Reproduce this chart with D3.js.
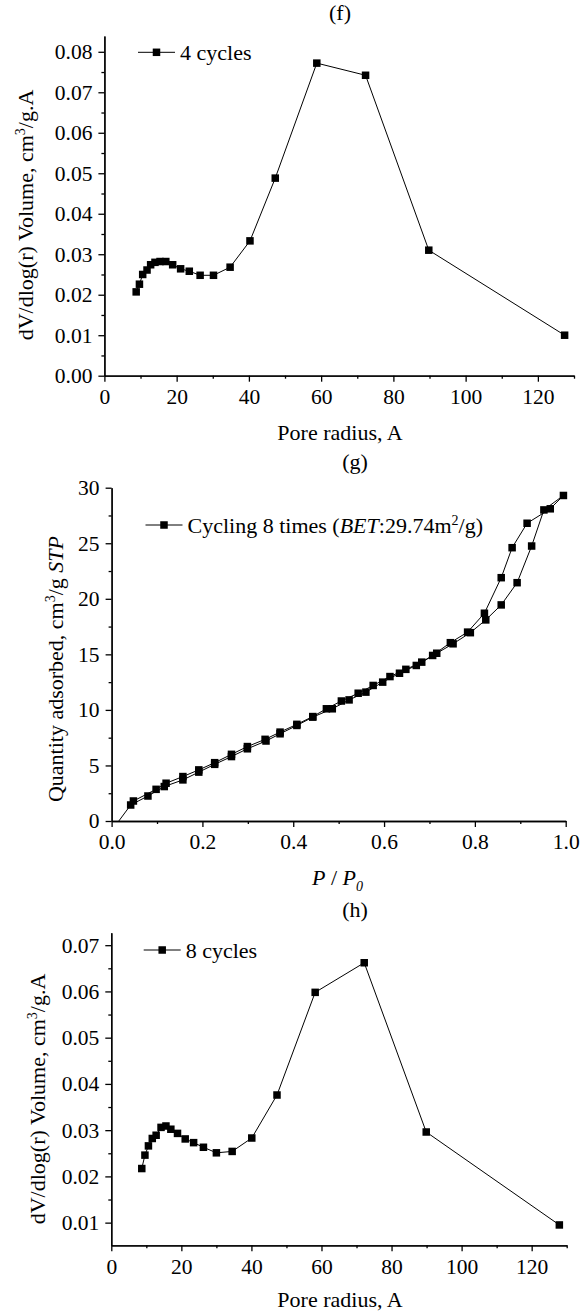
<!DOCTYPE html>
<html>
<head>
<meta charset="utf-8">
<script src="https://cdn.jsdelivr.net/npm/d3@7"></script>
<style>
    body { margin: 0; background: #fff; }
    svg text { font-family: "Liberation Serif", "Times New Roman", serif; fill: #000; }
    .axis path, .axis line { stroke: #000; stroke-width: 1.3; }
    .axis text { font-size: 21.5px; }
</style>
</head>
<body>
<div id="chart"></div>
<script>
// (f) pore size distribution after 4 cycles
var fRadius = [8.8, 9.7, 10.6, 11.8, 12.8, 14.0, 15.4, 17.0, 18.9, 21.1, 23.5, 26.5, 30.2, 34.8, 40.3, 47.3, 58.8, 72.3, 89.8, 127.4];
var fVolume = [0.0207, 0.0226, 0.0250, 0.0261, 0.0274, 0.0280, 0.0282, 0.0282, 0.0274, 0.0264, 0.0258, 0.0248, 0.0248, 0.0268, 0.0333, 0.0488, 0.0772, 0.0742, 0.0310, 0.0100];

// (g) N2 isotherm after 8 cycles, adsorption then desorption
var gPressure = [0.005, 0.042, 0.080, 0.116, 0.157, 0.192, 0.227, 0.264, 0.299, 0.340, 0.371, 0.408, 0.443, 0.486, 0.523, 0.560, 0.597, 0.634, 0.671, 0.716, 0.752, 0.790, 0.824, 0.858, 0.893, 0.925, 0.952, 0.995,
    0.966, 0.915, 0.882, 0.858, 0.821, 0.784, 0.746, 0.707, 0.683, 0.648, 0.613, 0.576, 0.543, 0.506, 0.473, 0.443, 0.408, 0.371, 0.338, 0.299, 0.264, 0.227, 0.192, 0.157, 0.120, 0.098, 0.048];
var gQuantity = [-0.6, 1.44, 2.25, 3.1, 3.7, 4.4, 5.1, 5.8, 6.5, 7.2, 7.85, 8.6, 9.35, 10.1, 10.9, 11.6, 12.5, 13.3, 14.0, 15.1, 15.95, 16.95, 18.1, 19.45, 21.45, 24.75, 28.0, 29.3,
    28.1, 26.8, 24.6, 21.9, 18.7, 17.0, 16.05, 14.9, 14.3, 13.65, 13.0, 12.2, 11.5, 10.8, 10.1, 9.4, 8.7, 8.0, 7.35, 6.7, 6.0, 5.25, 4.6, 4.0, 3.4, 2.85, 1.8];

// (h) pore size distribution after 8 cycles
var hRadius = [8.7, 9.6, 10.6, 11.7, 12.8, 14.2, 15.6, 17.0, 18.9, 21.1, 23.5, 26.3, 30.0, 34.5, 40.1, 47.3, 58.2, 72.2, 89.9, 127.9];
var hVolume = [0.0217, 0.0246, 0.0266, 0.0282, 0.0289, 0.0306, 0.0309, 0.0302, 0.0293, 0.0281, 0.0273, 0.0263, 0.0251, 0.0254, 0.0283, 0.0376, 0.0598, 0.0662, 0.0296, 0.0095];

// ticks
var radiusTicks = [0, 20, 40, 60, 80, 100, 120];
var radiusMinor = [10, 30, 50, 70, 90, 110, 130];
var fVolTicks = [0, 0.01, 0.02, 0.03, 0.04, 0.05, 0.06, 0.07, 0.08];
var fVolMinor = [0.005, 0.015, 0.025, 0.035, 0.045, 0.055, 0.065, 0.075];
var hVolTicks = [0.01, 0.02, 0.03, 0.04, 0.05, 0.06, 0.07];
var hVolMinor = [0.015, 0.025, 0.035, 0.045, 0.055, 0.065];
var pressureTicks = [0, 0.2, 0.4, 0.6, 0.8, 1.0];
var pressureMinor = [0.1, 0.3, 0.5, 0.7, 0.9];
var quantityTicks = [0, 5, 10, 15, 20, 25, 30];
var quantityMinor = [2.5, 7.5, 12.5, 17.5, 22.5, 27.5];

var svg = d3.select("#chart")
    .append("svg")
    .attr("width", 582)
    .attr("height", 1312);

function drawPanel(opts) {
    var x = d3.scaleLinear().domain(opts.xDomain).range([opts.left, opts.right]),
        y = d3.scaleLinear().domain(opts.yDomain).range([opts.bottom, opts.top]);

    var g = svg.append("g");

    svg.append("clipPath")
        .attr("id", "clip-" + opts.name)
        .append("rect")
        .attr("x", opts.left - 10)
        .attr("y", opts.top - 20)
        .attr("width", opts.right - opts.left + 20)
        .attr("height", opts.bottom - opts.top + 20);

    // minor ticks first, major axes on top
    g.append("g")
        .attr("class", "axis")
        .attr("transform", "translate(0," + opts.bottom + ")")
        .call(d3.axisBottom(x).tickValues(opts.xMinor).tickSize(3).tickSizeOuter(0).tickFormat(""));
    g.append("g")
        .attr("class", "axis")
        .attr("transform", "translate(" + opts.left + ",0)")
        .call(d3.axisLeft(y).tickValues(opts.yMinor).tickSize(3).tickSizeOuter(0).tickFormat(""));

    g.append("g")
        .attr("class", "axis")
        .attr("transform", "translate(0," + opts.bottom + ")")
        .call(d3.axisBottom(x).tickValues(opts.xTicks).tickSize(6).tickSizeOuter(0).tickPadding(7).tickFormat(opts.xFormat));
    g.append("g")
        .attr("class", "axis")
        .attr("transform", "translate(" + opts.left + ",0)")
        .call(d3.axisLeft(y).tickValues(opts.yTicks).tickSize(6).tickSizeOuter(0).tickPadding(6).tickFormat(opts.yFormat));

    var data = opts.xs.map(function (d, i) { return [d, opts.ys[i]]; });

    var line = d3.line()
        .x(function (d) { return x(d[0]); })
        .y(function (d) { return y(d[1]); });

    var plot = g.append("g").attr("clip-path", "url(#clip-" + opts.name + ")");

    plot.append("path")
        .datum(data)
        .attr("fill", "none")
        .attr("stroke", "#000")
        .attr("stroke-width", 1)
        .attr("d", line);

    plot.selectAll("rect.pt")
        .data(data)
        .enter().append("rect")
        .attr("class", "pt")
        .attr("x", function (d) { return x(d[0]) - 3.75; })
        .attr("y", function (d) { return y(d[1]) - 3.75; })
        .attr("width", 7.5)
        .attr("height", 7.5)
        .attr("fill", "#000");

    // legend
    var lg = g.append("g");
    lg.append("line")
        .attr("x1", opts.legend.x).attr("x2", opts.legend.x + 37)
        .attr("y1", opts.legend.y).attr("y2", opts.legend.y)
        .attr("stroke", "#000").attr("stroke-width", 1);
    lg.append("rect")
        .attr("x", opts.legend.x + 18.5 - 3.75).attr("y", opts.legend.y - 3.75)
        .attr("width", 7.5).attr("height", 7.5).attr("fill", "#000");
    var lt = lg.append("text")
        .attr("x", opts.legend.x + 42)
        .attr("y", opts.legend.y + 7.5)
        .attr("font-size", "22px");
    opts.legend.parts.forEach(function (p) {
        var t = lt.append("tspan").text(p.t);
        if (p.i) t.attr("font-style", "italic");
        if (p.sup) t.attr("font-size", "14px").attr("dy", -8);
        if (p.after) t.attr("dy", 8);
    });

    // panel letter
    g.append("text")
        .attr("x", opts.letter.x)
        .attr("y", opts.letter.y)
        .attr("text-anchor", "middle")
        .attr("font-size", "22px")
        .text(opts.letter.t);

    return { g: g, x: x, y: y };
}

function richText(sel, parts) {
    parts.forEach(function (p) {
        var t = sel.append("tspan").text(p.t);
        if (p.i) t.attr("font-style", "italic");
        if (p.sup) t.attr("font-size", "14px").attr("dy", -8);
        if (p.sub) t.attr("font-size", "14px").attr("dy", 6);
        if (p.after) t.attr("dy", p.after);
    });
}

var volumeTitle = [
    { t: "dV/dlog(r) Volume, cm" },
    { t: "3", sup: true },
    { t: "/g.A", after: 8 }
];

// (f)
var pf = drawPanel({
    name: "f",
    left: 104.4, right: 574, top: 36, bottom: 375.7,
    xDomain: [0, 130], yDomain: [0, 0.0839],
    xTicks: radiusTicks, xMinor: radiusMinor,
    yTicks: fVolTicks, yMinor: fVolMinor,
    xFormat: d3.format("d"), yFormat: d3.format(".2f"),
    xs: fRadius, ys: fVolume,
    legend: { x: 138, y: 52.3, parts: [{ t: "4 cycles" }] },
    letter: { x: 340, y: 20, t: "(f)" }
});
pf.g.append("text")
    .attr("x", 340).attr("y", 440)
    .attr("text-anchor", "middle").attr("font-size", "22px")
    .text("Pore radius, A");
richText(pf.g.append("text")
    .attr("transform", "translate(33,215) rotate(-90)")
    .attr("text-anchor", "middle").attr("font-size", "22px"), volumeTitle);

// (g)
var pg = drawPanel({
    name: "g",
    left: 111.6, right: 565.7, top: 487.7, bottom: 821,
    xDomain: [0, 1], yDomain: [0, 30],
    xTicks: pressureTicks, xMinor: pressureMinor,
    yTicks: quantityTicks, yMinor: quantityMinor,
    xFormat: d3.format(".1f"), yFormat: d3.format("d"),
    xs: gPressure, ys: gQuantity,
    legend: { x: 145.5, y: 525, parts: [
        { t: "Cycling 8 times (" }, { t: "BET", i: true }, { t: ":29.74m" },
        { t: "2", sup: true }, { t: "/g)", after: true }
    ] },
    letter: { x: 355, y: 469, t: "(g)" }
});
richText(pg.g.append("text")
    .attr("x", 312).attr("y", 885).attr("font-size", "22px"),
    [{ t: "P", i: true }, { t: " / " }, { t: "P", i: true }, { t: "0", i: true, sub: true }]);
richText(pg.g.append("text")
    .attr("transform", "translate(63,669) rotate(-90)")
    .attr("text-anchor", "middle").attr("font-size", "22px"),
    [{ t: "Quantity adsorbed, cm" }, { t: "3", sup: true }, { t: "/g ", after: 8 }, { t: "STP", i: true }]);

// (h)
var ph = drawPanel({
    name: "h",
    left: 111.3, right: 566.7, top: 932.7, bottom: 1245.3,
    xDomain: [0, 130], yDomain: [0.0051, 0.0727],
    xTicks: radiusTicks, xMinor: radiusMinor,
    yTicks: hVolTicks, yMinor: hVolMinor,
    xFormat: d3.format("d"), yFormat: d3.format(".2f"),
    xs: hRadius, ys: hVolume,
    legend: { x: 143.7, y: 950, parts: [{ t: "8 cycles" }] },
    letter: { x: 355, y: 917, t: "(h)" }
});
ph.g.append("text")
    .attr("x", 340).attr("y", 1307)
    .attr("text-anchor", "middle").attr("font-size", "22px")
    .text("Pore radius, A");
richText(ph.g.append("text")
    .attr("transform", "translate(45,1099) rotate(-90)")
    .attr("text-anchor", "middle").attr("font-size", "22px"), volumeTitle);
</script>
</body>
</html>
